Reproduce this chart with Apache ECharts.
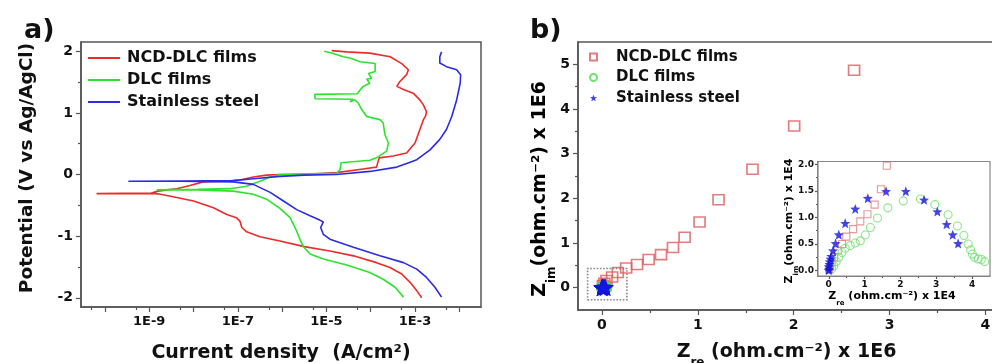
<!DOCTYPE html>
<html>
<head>
<meta charset="utf-8">
<script src="https://cdn.jsdelivr.net/npm/echarts@6/dist/echarts.min.js"></script>
<style>
  html, body { margin: 0; padding: 0; background: #fff; }
  #chart { width: 992px; height: 363px; }
</style>
</head>
<body>
<div id="chart"></div>
<script>
// ---- data ----
// a) polarization curves, points are [log10(current density A/cm2), potential V]
const ncdCurve = [
  [-2.85, -2.0], [-2.96, -1.885], [-3.11, -1.75], [-3.30, -1.615], [-3.565, -1.51], [-3.87, -1.43],
  [-4.39, -1.32], [-4.92, -1.24], [-5.50, -1.17], [-6.05, -1.08], [-6.50, -1.01], [-6.80, -0.93],
  [-6.91, -0.86], [-6.95, -0.76], [-7.03, -0.70], [-7.25, -0.65], [-7.55, -0.54], [-8.0, -0.43],
  [-8.46, -0.36], [-8.75, -0.32], [-8.85, -0.31], [-10.19, -0.31], [-8.95, -0.30], [-8.8, -0.27],
  [-8.6, -0.25], [-8.38, -0.23], [-8.08, -0.18], [-7.78, -0.12], [-7.33, -0.11], [-6.95, -0.09],
  [-6.65, -0.04], [-6.35, -0.01], [-6.05, 0.0], [-5.52, 0.0], [-4.77, 0.03], [-4.17, 0.09],
  [-3.87, 0.12], [-3.83, 0.15], [-3.81, 0.27], [-3.49, 0.30], [-3.19, 0.35], [-3.0, 0.51],
  [-2.89, 0.73], [-2.81, 0.89], [-2.76, 0.95], [-2.72, 0.98], [-2.74, 1.02], [-2.75, 1.05],
  [-2.78, 1.08], [-2.81, 1.13], [-2.89, 1.21], [-3.04, 1.32], [-3.26, 1.38], [-3.41, 1.43],
  [-3.34, 1.51], [-3.19, 1.62], [-3.15, 1.70], [-3.30, 1.80], [-3.56, 1.91], [-4.02, 1.97],
  [-4.54, 1.99], [-4.88, 2.01]
];
const dlcCurve = [
  [-3.26, -1.99], [-3.45, -1.83], [-3.72, -1.70], [-4.02, -1.59], [-4.54, -1.47], [-5.07, -1.37],
  [-5.37, -1.29], [-5.52, -1.17], [-5.60, -1.05], [-5.67, -0.92], [-5.82, -0.70], [-6.05, -0.55],
  [-6.35, -0.40], [-6.65, -0.32], [-7.10, -0.27], [-7.93, -0.25], [-8.83, -0.25], [-7.9, -0.24],
  [-7.18, -0.23], [-6.80, -0.19], [-6.50, -0.11], [-6.27, -0.04], [-6.05, 0.0], [-5.5, 0.01],
  [-4.77, 0.02], [-4.69, 0.08], [-4.67, 0.19], [-4.54, 0.20], [-4.02, 0.23], [-3.87, 0.27],
  [-3.64, 0.38], [-3.60, 0.51], [-3.68, 0.65], [-3.72, 0.84], [-3.79, 0.89], [-3.83, 0.92],
  [-4.09, 0.94], [-4.20, 1.05], [-4.28, 1.16], [-4.36, 1.21], [-4.47, 1.18], [-4.40, 1.22],
  [-5.26, 1.23], [-5.26, 1.30], [-4.30, 1.31], [-4.24, 1.37], [-4.17, 1.43], [-4.02, 1.48],
  [-4.09, 1.55], [-3.98, 1.56], [-4.05, 1.64], [-3.90, 1.67], [-3.90, 1.80], [-4.24, 1.83],
  [-4.47, 1.89], [-4.62, 1.91], [-4.88, 1.97], [-5.05, 2.0]
];
const ssCurve = [
  [-2.40, -1.99], [-2.55, -1.83], [-2.74, -1.67], [-2.96, -1.535], [-3.26, -1.43], [-3.79, -1.32],
  [-4.39, -1.18], [-4.92, -1.05], [-5.07, -0.97], [-5.13, -0.86], [-5.07, -0.77], [-5.15, -0.74],
  [-5.37, -0.67], [-5.67, -0.57], [-5.97, -0.43], [-6.27, -0.29], [-6.65, -0.16], [-7.10, -0.12],
  [-8.31, -0.11], [-9.47, -0.11], [-8.3, -0.105], [-7.10, -0.10], [-6.65, -0.07], [-6.05, -0.03],
  [-5.5, -0.01], [-4.77, 0.0], [-4.02, 0.05], [-3.41, 0.12], [-3.11, 0.20], [-2.96, 0.24],
  [-2.66, 0.40], [-2.44, 0.57], [-2.29, 0.73], [-2.17, 0.94], [-2.06, 1.21], [-1.98, 1.48],
  [-1.97, 1.62], [-2.06, 1.70], [-2.29, 1.75], [-2.44, 1.81], [-2.44, 1.91], [-2.40, 1.99]
];

// b) Nyquist plot, main panel in units of 1E6 ohm.cm-2
const ncdZre = [0.01, 0.025, 0.047, 0.106, 0.165, 0.252, 0.366, 0.487, 0.616, 0.741, 0.862, 1.018, 1.216, 1.57, 2.005, 2.63];
const ncdZim = [0.05, 0.10, 0.16, 0.24, 0.34, 0.44, 0.52, 0.63, 0.74, 0.90, 1.13, 1.47, 1.97, 2.65, 3.62, 4.87];

// b) inset in units of 1E4 ohm.cm-2
const ncdInsetZre = [0.01, 0.03, 0.08, 0.15, 0.25, 0.37, 0.49, 0.68, 0.88, 1.08, 1.28, 1.455, 1.62];
const ncdInsetZim = [0.02, 0.07, 0.15, 0.25, 0.38, 0.50, 0.64, 0.78, 0.925, 1.06, 1.24, 1.53, 1.97];
const dlcInsetZre = [0.08, 0.14, 0.21, 0.28, 0.37, 0.46, 0.60, 0.74, 0.88, 1.02, 1.16, 1.36, 1.65, 2.08, 2.56,
  2.96, 3.33, 3.59, 3.77, 3.89, 3.96, 4.01, 4.07, 4.17, 4.26, 4.35];
const dlcInsetZim = [0.03, 0.09, 0.17, 0.25, 0.34, 0.42, 0.47, 0.52, 0.56, 0.67, 0.81, 0.99, 1.18, 1.31, 1.345,
  1.24, 1.05, 0.84, 0.66, 0.50, 0.39, 0.31, 0.25, 0.22, 0.21, 0.17];
const ssInsetZre = [0.0, 0.01, 0.0, 0.02, 0.03, 0.05, 0.07, 0.12, 0.19, 0.28, 0.46, 0.74, 1.09, 1.60, 2.15, 2.66,
  3.03, 3.29, 3.46, 3.61];
const ssInsetZim = [0.01, 0.03, 0.075, 0.12, 0.17, 0.22, 0.27, 0.375, 0.51, 0.675, 0.89, 1.16, 1.36, 1.49, 1.49, 1.33,
  1.11, 0.87, 0.675, 0.51];

// dotted box marking the zoomed region (x0, y0, x1, y1 in 1E6 units)
const zoomBox = [-0.15, -0.27, 0.26, 0.43];

// ticks
const decadeTicks = [-10, -9, -8, -7, -6, -5, -4, -3, -2];
const decadeLabels = [-9, -7, -5, -3];
const fiveTicks = [-11, -10, -9, -8, -7, -6, -5, -4, -3, -2].map(n => n + Math.log10(5));
const potentialTicks = [-2, -1, 0, 1, 2];
const potentialMinor = [-1.5, -0.5, 0.5, 1.5];
const zreTicks = [0, 1, 2, 3, 4];
const zreMinor = [0.5, 1.5, 2.5, 3.5];
const zimTicks = [0, 1, 2, 3, 4, 5];
const zimMinor = [0.5, 1.5, 2.5, 3.5, 4.5];
const insetXTicks = [0, 1, 2, 3, 4];
const insetXMinor = [0.5, 1.5, 2.5, 3.5];
const insetYTicks = [0, 0.5, 1.0, 1.5, 2.0];
const insetYMinor = [0.25, 0.75, 1.25, 1.75];

const seriesNames = ['NCD-DLC films', 'DLC films', 'Stainless steel'];
const eisNames = seriesNames.map(n => n + ' (EIS)');

const FONT = 'DejaVu Sans';
const AXIS_COLOR = '#555';
const STAR = 'path://M0,-10 L2.53,-3.48 L9.51,-3.09 L4.09,1.33 L5.88,8.09 L0,4.3 L-5.88,8.09 L-4.09,1.33 L-9.51,-3.09 L-2.53,-3.48 Z';
const zip = (xs, ys, k) => xs.map((x, i) => [x * k, ys[i] * k]);

// one axis: line + ticks + optional labels
function makeAxis(gridIndex, position, min, max, ticks, tickLen, labels, fmt, size, margin) {
  return {
    type: 'value',
    gridIndex: gridIndex,
    position: position,
    min: min,
    max: max,
    splitLine: { show: false },
    axisLine: { show: !!labels, onZero: false, lineStyle: { color: AXIS_COLOR, width: 1.5 } },
    axisTick: { show: true, length: tickLen, customValues: ticks, lineStyle: { color: AXIS_COLOR, width: 1.2 } },
    axisLabel: labels ? {
      show: true, customValues: labels, formatter: fmt, margin: margin,
      fontFamily: FONT, fontWeight: 'bold', fontSize: size, color: '#111'
    } : { show: false }
  };
}

const plain = v => String(v);
const xAxes = [
  makeAxis(0, 'bottom', -10.54, -1.51, decadeTicks, 5, decadeLabels, v => '1E' + v, 13, 8),
  makeAxis(0, 'bottom', -10.54, -1.51, fiveTicks, 3),
  makeAxis(1, 'bottom', -0.25, 4.1, zreTicks, 5, zreTicks, plain, 14, 8),
  makeAxis(1, 'bottom', -0.25, 4.1, zreMinor, 3),
  makeAxis(2, 'bottom', -0.3, 4.5, insetXTicks, 3, insetXTicks, plain, 9, 4),
  makeAxis(2, 'bottom', -0.3, 4.5, insetXMinor, 2)
];
const yAxes = [
  makeAxis(0, 'left', -2.15, 2.15, potentialTicks, 5, potentialTicks, plain, 14, 8),
  makeAxis(0, 'left', -2.15, 2.15, potentialMinor, 3),
  makeAxis(1, 'left', -0.5, 5.5, zimTicks, 5, zimTicks, plain, 14, 8),
  makeAxis(1, 'left', -0.5, 5.5, zimMinor, 3),
  makeAxis(2, 'left', -0.1, 2.05, insetYTicks, 3, insetYTicks, v => v.toFixed(1), 9, 4),
  makeAxis(2, 'left', -0.1, 2.05, insetYMinor, 2)
];

// axis names
xAxes[0].name = 'Current density  (A/cm²)';
xAxes[0].nameLocation = 'middle';
xAxes[0].nameGap = 35;
xAxes[0].nameTextStyle = { fontFamily: FONT, fontWeight: 'bold', fontSize: 19, color: '#111', lineHeight: 22 };

const subRich = (big, small, line, pad) => ({
  m: { fontFamily: FONT, fontWeight: 'bold', fontSize: big, color: '#111', lineHeight: line, verticalAlign: 'top' },
  s: { fontFamily: FONT, fontWeight: 'bold', fontSize: small, color: '#111', lineHeight: small, verticalAlign: 'top', padding: [pad, 0, 0, 0] }
});
xAxes[2].name = '{m|Z}{s|re}{m| (ohm.cm⁻²) x 1E6}';
xAxes[2].nameLocation = 'middle';
xAxes[2].nameGap = 33;
xAxes[2].nameTextStyle = { rich: subRich(19, 12, 22, 14) };

const colors = { ncd: '#ec2b2b', dlc: '#2ee32e', ss: '#2b2be6' };
const lineSeries = (name, data, color) => ({
  name: name, type: 'line', xAxisIndex: 0, yAxisIndex: 0, data: data,
  symbol: 'none', lineStyle: { color: color, width: 1.6 }, itemStyle: { color: color }, z: 3
});

const gridBase = { show: true, containLabel: false, outerBoundsMode: 'none', borderColor: AXIS_COLOR, borderWidth: 1.5 };

const option = {
  animation: false,
  backgroundColor: '#fff',
  grid: [
    Object.assign({}, gridBase, { left: 81, top: 42, width: 400, height: 265 }),
    Object.assign({}, gridBase, { left: 578, top: 42, width: 417, height: 268 }),
    Object.assign({}, gridBase, { left: 818, top: 161.5, width: 172, height: 114.5, backgroundColor: '#fff', borderColor: '#888', borderWidth: 1.2, z: 5 })
  ],
  xAxis: xAxes,
  yAxis: yAxes,
  legend: [
    {
      data: seriesNames.map(n => ({ name: n, icon: 'rect' })), orient: 'vertical', left: 88, top: 48, padding: 0,
      itemWidth: 32, itemHeight: 2, itemGap: 2,
      textStyle: { fontFamily: FONT, fontWeight: 'bold', fontSize: 16, color: '#111', lineHeight: 20, padding: [0, 0, 0, 2] }
    },
    {
      data: eisNames, orient: 'vertical', left: 589, top: 47, padding: 0,
      itemWidth: 7, itemHeight: 7, itemGap: 0.5,
      formatter: n => n.replace(' (EIS)', ''),
      textStyle: { fontFamily: FONT, fontWeight: 'bold', fontSize: 15, color: '#111', lineHeight: 20, padding: [0, 0, 0, 14] }
    }
  ],
  graphic: [
    { type: 'text', left: 24, top: 17, style: { text: 'a)', fontFamily: FONT, fontWeight: 'bold', fontSize: 27, fill: '#111' } },
    { type: 'text', left: 530, top: 17, style: { text: 'b)', fontFamily: FONT, fontWeight: 'bold', fontSize: 27, fill: '#111' } },
    {
      type: 'text', x: 27, y: 168, rotation: Math.PI / 2,
      style: { text: 'Potential (V vs Ag/AgCl)', fontFamily: FONT, fontWeight: 'bold', fontSize: 18.5, fill: '#111', align: 'center', verticalAlign: 'middle' }
    },
    {
      type: 'text', x: 542, y: 189, rotation: Math.PI / 2,
      style: { text: '{m|Z}{s|im}{m|(ohm.cm⁻²) x 1E6}', rich: subRich(19, 12, 22, 15), align: 'center', verticalAlign: 'middle' }
    },
    {
      type: 'text', x: 790, y: 221, rotation: Math.PI / 2, z: 10,
      style: { text: '{m|Z}{s|im}{m|(ohm.cm⁻²) x 1E4}', rich: subRich(11, 7, 13, 9), align: 'center', verticalAlign: 'middle' }
    },
    {
      type: 'text', x: 892, y: 297, z: 10,
      style: { text: '{m|Z}{s|re}{m| (ohm.cm⁻²) x 1E4}', rich: subRich(11, 7, 13, 9), align: 'center', verticalAlign: 'middle' }
    }
  ],
  series: [
    lineSeries(seriesNames[0], ncdCurve, colors.ncd),
    lineSeries(seriesNames[1], dlcCurve, colors.dlc),
    lineSeries(seriesNames[2], ssCurve, colors.ss),

    // b) main
    {
      name: eisNames[0], type: 'scatter', xAxisIndex: 2, yAxisIndex: 2,
      data: zip(ncdZre, ncdZim, 1), symbol: 'rect', symbolSize: [11, 10],
      itemStyle: { color: 'rgba(0,0,0,0)', borderColor: '#dc5c5c', borderWidth: 1.6 },
      markArea: {
        silent: true,
        itemStyle: { color: 'rgba(0,0,0,0)', borderColor: '#888', borderWidth: 1.6, borderType: 'dotted' },
        data: [[{ coord: [zoomBox[0], zoomBox[1]] }, { coord: [zoomBox[2], zoomBox[3]] }]]
      }
    },
    {
      name: eisNames[1], type: 'scatter', xAxisIndex: 2, yAxisIndex: 2,
      data: zip(dlcInsetZre, dlcInsetZim, 0.01), symbol: 'circle', symbolSize: 11,
      itemStyle: { color: 'rgba(0,0,0,0)', borderColor: '#4fd94f', borderWidth: 1.4 }
    },
    {
      name: eisNames[2], type: 'scatter', xAxisIndex: 2, yAxisIndex: 2,
      data: zip(ssInsetZre, ssInsetZim, 0.01), symbol: STAR, symbolSize: 17,
      itemStyle: { color: '#1515e0' }
    },

    // b) inset
    {
      name: eisNames[0], type: 'scatter', xAxisIndex: 4, yAxisIndex: 4, z: 6,
      data: zip(ncdInsetZre, ncdInsetZim, 1), symbol: 'rect', symbolSize: 7,
      itemStyle: { color: 'rgba(0,0,0,0)', borderColor: '#df7f7f', borderWidth: 1.1 }
    },
    {
      name: eisNames[1], type: 'scatter', xAxisIndex: 4, yAxisIndex: 4, z: 6,
      data: zip(dlcInsetZre, dlcInsetZim, 1), symbol: 'circle', symbolSize: 8,
      itemStyle: { color: 'rgba(0,0,0,0)', borderColor: '#6ee06e', borderWidth: 1.1 }
    },
    {
      name: eisNames[2], type: 'scatter', xAxisIndex: 4, yAxisIndex: 4, z: 7,
      data: zip(ssInsetZre, ssInsetZim, 1), symbol: STAR, symbolSize: 10,
      itemStyle: { color: '#1515e0' }
    }
  ]
};

const chart = echarts.init(document.getElementById('chart'), null, { renderer: 'canvas' });
chart.setOption(option);
</script>
</body>
</html>
